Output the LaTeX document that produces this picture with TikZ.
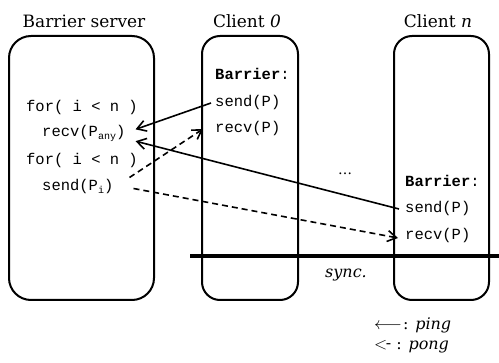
\documentclass[tikz,border=0pt]{standalone}
\usepackage{fontspec}
\setmainfont{DejaVu Serif}
\setmonofont{Liberation Mono}
\usetikzlibrary{arrows.meta,calc}
\begin{document}
\begin{tikzpicture}[x=1pt,y=-1pt,
  box/.style={draw, line width=2pt, anchor=north west, inner sep=0pt, outer sep=0pt},
  title/.style={font=\fontsize{17}{20}\selectfont, anchor=base, inner sep=0pt},
  code/.style={font=\fontsize{15.5}{18}\selectfont\ttfamily, anchor=base west, inner sep=0pt},
  lbl/.style={anchor=base, inner sep=0pt},
  ping/.style={line width=1.6pt, -{Straight Barb[length=9pt,width=11pt]}},
  pong/.style={ping, dash pattern=on 6pt off 4pt},
]
\useasboundingbox (0,0) rectangle (499,363);
% boxes
\node[box, rounded corners=22pt, minimum width=145pt, minimum height=264pt] (server) at (9,36) {};
\node[box, rounded corners=18pt, minimum width=96pt, minimum height=264pt] (c0) at (202,36) {};
\node[box, rounded corners=18pt, minimum width=95pt, minimum height=264pt] (cn) at (394,36) {};
% titles
\node[title] (tserver) at (84,28) {Barrier server};
\node[title] (tc0) at (247,28) {Client \textit{0}};
\node[title] (tcn) at (438,28) {Client \textit{n}};
% server code
\node[code] (for1) at (26,112) {for( i < n )};
\node[code] (rany) at (42,137) {recv(P\raisebox{-2.5pt}{\fontsize{10}{10}\selectfont any})};
\node[code] (for2) at (26,165) {for( i < n )};
\node[code] (sendi) at (42,191) {send(P\raisebox{-2.5pt}{\fontsize{10}{10}\selectfont i})};
% client 0 code
\node[code] (b0) at (215,80) {\textbf{Barrier}:};
\node[code] (s0) at (215,107) {send(P)};
\node[code] (r0) at (215,133) {recv(P)};
% client n code
\node[code] (bn) at (405,187) {\textbf{Barrier}:};
\node[code] (sn) at (405,213) {send(P)};
\node[code] (rn) at (405,240) {recv(P)};
% dots and sync
\node[lbl, font=\fontsize{14}{16}\selectfont] (dots) at (345,175) {\dots};
\coordinate (syncL) at (190,256);
\coordinate (syncR) at (499,256);
\draw[line width=3.2pt] (syncL) -- (syncR);
\node[lbl, font=\fontsize{16}{18}\selectfont\itshape] (sync) at (346,278) {sync.};
% legend
\node[anchor=base west, inner sep=0pt, font=\fontsize{16}{18}\selectfont] (lping) at (374,330) {$\longleftarrow$\kern-4pt\ : \textit{ping}};
\node[anchor=base west, inner sep=0pt, font=\fontsize{16}{18}\selectfont] (lpong) at (374,350) {$<$\kern-1.5pt\raisebox{1pt}{-} : \textit{pong}};
% connectors
\draw[ping] ([xshift=-4pt]s0.west) -- ([xshift=10pt,yshift=4.3pt]rany.east);
\draw[ping] ([xshift=-6pt]sn.west) -- ([xshift=10pt,yshift=-7.5pt]rany.east);
\draw[pong] ([xshift=16pt,yshift=9.5pt]sendi.east) -- ([xshift=-12pt]r0.west);
\draw[pong] ([xshift=20pt,yshift=-1.5pt]sendi.east) -- ([xshift=-7pt,yshift=-2pt]rn.west);
\end{tikzpicture}
\end{document}
